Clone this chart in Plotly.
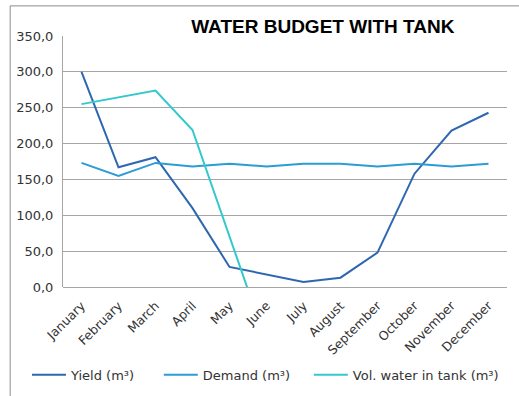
"""Water budget with tank: monthly yield, demand and tank volume."""

import plotly.graph_objects as go

MONTHS = [
    "January", "February", "March", "April", "May", "June",
    "July", "August", "September", "October", "November", "December",
]
YIELD_M3 = [300, 167, 181, 110, 28, 17, 7, 13, 48, 158, 218, 243]
DEMAND_M3 = [173, 155, 173, 168, 172, 168, 172, 172, 168, 172, 168, 172]
# tank runs dry after May; the June value is below the axis and gets clipped
TANK_M3 = [255, 265, 274, 219, 71, -78, None, None, None, None, None, None]

Y_TICKS = [0, 50, 100, 150, 200, 250, 300, 350]

_YIELD_COLOR = "#2E67B1"
_DEMAND_COLOR = "#2B9CD6"
_TANK_COLOR = "#33C9CC"
_GRID_COLOR = "#A6A6A6"
_TEXT_COLOR = "#333333"
_FONT = "DejaVu Sans"

# one legend per series so each entry can sit where Excel put it
fig = go.Figure()
for name, values, color, legend_id in [
    ("Yield (m³)", YIELD_M3, _YIELD_COLOR, "legend"),
    ("Demand (m³)", DEMAND_M3, _DEMAND_COLOR, "legend2"),
    ("Vol. water in tank (m³)", TANK_M3, _TANK_COLOR, "legend3"),
]:
    fig.add_trace(
        go.Scatter(
            x=MONTHS,
            y=values,
            name=name,
            mode="lines",
            line={"color": color, "width": 2},
            connectgaps=False,
            legend=legend_id,
            showlegend=True,
        )
    )

fig.update_xaxes(
    range=[-0.5, 11.5],
    tickangle=-45,
    tickfont={"family": _FONT, "size": 12.5, "color": _TEXT_COLOR},
    showgrid=False,
    showline=False,
    ticks="",
    ticklabelstandoff=8,
)
fig.update_yaxes(
    range=[0, 350],
    tickvals=Y_TICKS,
    tickformat=".1f",
    tickfont={"family": _FONT, "size": 13, "color": _TEXT_COLOR},
    showgrid=True,
    gridcolor=_GRID_COLOR,
    gridwidth=1,
    showline=True,
    linecolor=_GRID_COLOR,
    linewidth=1,
    zeroline=True,
    zerolinecolor=_GRID_COLOR,
    zerolinewidth=1,
    ticks="",
    ticklabelstandoff=6,
)


def _legend(x):
    return {
        "orientation": "h",
        "xref": "container",
        "x": x,
        "xanchor": "left",
        "y": -0.29,
        "yanchor": "top",
        "font": {"family": _FONT, "size": 13, "color": _TEXT_COLOR},
        "itemwidth": 34,
        "bgcolor": "rgba(0,0,0,0)",
    }


fig.update_layout(
    width=519,
    height=396,
    showlegend=True,
    separators=",.",
    paper_bgcolor="white",
    plot_bgcolor="white",
    margin={"l": 63, "r": 12, "t": 36, "b": 109, "autoexpand": False},
    title={
        "text": "<b>WATER BUDGET WITH TANK</b>",
        "x": 0.622,
        "xanchor": "center",
        "y": 0.934,
        "yanchor": "middle",
        "font": {"family": "Liberation Sans", "size": 19, "color": "black"},
    },
    legend=_legend(0.052),
    legend2=_legend(0.306),
    legend3=_legend(0.595),
    shapes=[
        {
            "type": "rect",
            "xref": "paper",
            "yref": "paper",
            "x0": -0.119,
            "x1": 1.2,
            "y0": -0.5,
            "y1": 1.12,
            "line": {"color": "#8C8C8C", "width": 1},
            "layer": "below",
        }
    ],
)

# drop the browser's default 8px body margin so the figure sits at the origin
fig.write_html(
    "out.html",
    config={"displayModeBar": False},
    post_script="document.body.style.margin = '0';",
)
